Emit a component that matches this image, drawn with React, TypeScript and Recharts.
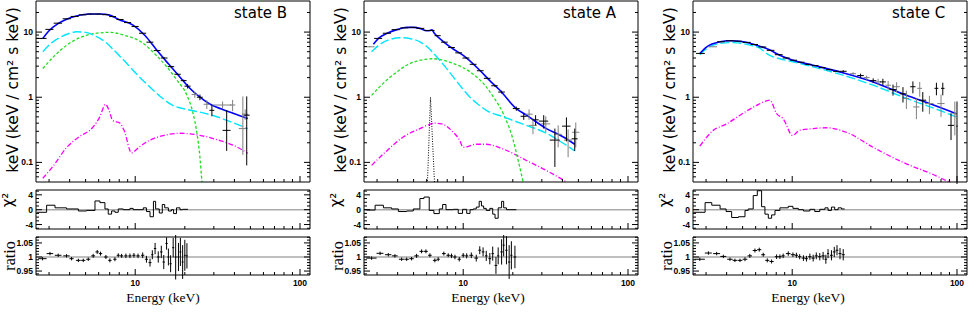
import React from 'react';
import { ComposedChart, Line, Scatter, XAxis, YAxis, ErrorBar, ReferenceLine } from 'recharts';

// ---------------- axes / ticks ----------------
const xDomain: [number, number] = [2.5, 115];
const xTicks = [3, 4, 5, 6, 7, 8, 9, 10, 20, 30, 40, 50, 60, 70, 80, 90, 100];
const xMajor = [10, 100];
const specDomain: [number, number] = [0.05, 30];
const specTicks = [0.06, 0.07, 0.08, 0.09, 0.1, 0.2, 0.3, 0.4, 0.5, 0.6, 0.7, 0.8, 0.9, 1, 2, 3, 4, 5, 6, 7, 8, 9, 10, 20];
const specMajor = [0.1, 1, 10];
const chiDomain: [number, number] = [-5.2, 5.3];
const chiTicks = [-5, -4, -3, -2, -1, 0, 1, 2, 3, 4, 5];
const chiMajor = [-4, 0, 4];
const ratioDomain: [number, number] = [0.936, 1.071];
const ratioTicks = [0.94, 0.95, 0.96, 0.97, 0.98, 0.99, 1, 1.01, 1.02, 1.03, 1.04, 1.05, 1.06, 1.07];
const ratioMajor = [0.95, 1, 1.05];

// ---------------- state B ----------------
const blueB = [[2.75, 8.0], [3.0, 10.5], [3.4, 13.5], [3.84, 15.8], [4.4, 17.6], [5.3, 18.9], [6.2, 18.9], [7.0, 18.2], [8.0, 15.5], [9.7, 12.8], [11.5, 8.8], [13.5, 5.3], [16, 3.2], [18.7, 2.03], [21, 1.45], [24.7, 1.0], [28, 0.8], [31.3, 0.7], [40, 0.56], [48.2, 0.47]];
const cyanB = [[2.75, 5.0], [3.1, 6.8], [3.5, 8.3], [4.0, 9.6], [4.4, 10.1], [5.0, 9.9], [5.8, 8.6], [6.7, 6.8], [7.7, 4.8], [8.9, 3.3], [10.5, 2.1], [12.3, 1.43], [14.5, 0.98], [16.9, 0.75], [20, 0.66], [24.7, 0.59], [30, 0.52], [38, 0.42], [48.2, 0.33]];
const greenB = [[2.75, 2.76], [3.2, 4.2], [3.84, 6.3], [4.6, 8.2], [5.5, 9.4], [7.0, 9.9], [8.5, 9.0], [11.1, 6.8], [13.3, 4.5], [15.6, 2.9], [18, 1.8], [20.5, 1.1], [22.3, 0.6], [23.7, 0.28], [24.7, 0.12], [25.4, 0.05], [25.8, 0.03]];
const magentaB = [[2.75, 0.057], [3.2, 0.09], [3.84, 0.17], [4.6, 0.25], [5.5, 0.34], [6.1, 0.5], [6.6, 0.78], [6.95, 0.62], [7.3, 0.44], [8.1, 0.4], [8.6, 0.3], [9.5, 0.14], [10.5, 0.17], [12.3, 0.22], [15, 0.26], [18.7, 0.28], [24.7, 0.26], [32, 0.22], [40, 0.18], [48.2, 0.138]];
const dataBlackB = [[2.7, 8.0, 0.2, 0.1, 0.1], [3.02, 11.0, 0.17, 0.12, 0.12], [3.4, 13.7, 0.2, 0.15, 0.15], [3.85, 16, 0.22, 0.2, 0.2], [4.3, 17.4, 0.24, 0.2, 0.2], [4.8, 18.4, 0.26, 0.2, 0.2], [5.35, 18.9, 0.28, 0.2, 0.2], [5.95, 18.9, 0.3, 0.2, 0.2], [6.6, 18.5, 0.32, 0.2, 0.2], [7.3, 17.3, 0.35, 0.2, 0.2], [8.1, 15.6, 0.4, 0.2, 0.2], [9.0, 14, 0.45, 0.2, 0.2], [10.0, 12.2, 0.5, 0.2, 0.2], [11.1, 9.6, 0.55, 0.15, 0.15], [12.3, 7.0, 0.6, 0.12, 0.12], [13.6, 5.2, 0.65, 0.1, 0.1], [15.0, 4.0, 0.7, 0.08, 0.08], [16.5, 2.95, 0.75, 0.07, 0.07], [18.1, 2.25, 0.8, 0.06, 0.06], [19.7, 1.8, 0.8, 0.06, 0.06], [20.8, 1.48, 0.9, 0.12, 0.12], [24.7, 1.0, 1.0, 0.1, 0.1], [29.2, 0.63, 1.0, 0.12, 0.12], [35.9, 0.31, 2.0, 0.16, 0.32], [47.5, 0.53, 2.0, 0.44, 0.5]];
const dataGreyB = [[23, 1.1, 1.0, 0.12, 0.12], [27.2, 0.78, 1.2, 0.12, 0.12], [33.9, 0.76, 4.5, 0.1, 0.1], [39, 0.76, 1.5, 0.15, 0.15], [45, 0.33, 2.5, 0.2, 0.7], [46.5, 0.55, 2.0, 0.1, 0.1]];
const chiB = [[2.52, -0.7], [2.9, 1.2], [3.26, 0.5], [3.83, 0.2], [4.52, -0.35], [5.07, -0.2], [5.7, 2.35], [6.11, 1.9], [6.55, 0.2], [6.86, -1.2], [7.19, -0.35], [7.53, -0.7], [7.89, 0.2], [8.46, 0], [9.29, 0.35], [9.72, 0], [11.2, 0.5], [11.7, -0.5], [12.3, -1.9], [12.9, 2.25], [13.3, 0.2], [14.0, -0.9], [14.6, 1.4], [15.1, 0.5], [15.9, -0.35], [16.6, 0], [17.1, -1.05], [17.8, 0.5], [18.7, 0], [19.4, 0.1], [20.9, 0.1]];
const ratioB = [[2.74, 0.994, 0.16, 0.006], [3.04, 1.012, 0.14, 0.006], [3.41, 1.006, 0.16, 0.006], [3.83, 1.004, 0.17, 0.006], [4.11, 0.994, 0.12, 0.006], [4.52, 0.988, 0.15, 0.006], [4.84, 0.988, 0.14, 0.006], [5.19, 0.992, 0.15, 0.006], [5.56, 1.004, 0.15, 0.007], [5.88, 1.018, 0.14, 0.007], [6.16, 1.012, 0.14, 0.007], [6.64, 1.0, 0.16, 0.007], [7.02, 0.988, 0.16, 0.007], [7.53, 0.992, 0.17, 0.007], [7.89, 1.006, 0.17, 0.007], [8.27, 1.004, 0.18, 0.007], [8.78, 1.004, 0.2, 0.008], [9.29, 1.004, 0.2, 0.008], [9.82, 1.006, 0.22, 0.008], [10.4, 1.004, 0.24, 0.008], [11.1, 1.006, 0.25, 0.01], [11.7, 0.992, 0.25, 0.012], [12.3, 0.98, 0.25, 0.014], [12.7, 1.008, 0.2, 0.016], [13.2, 1.03, 0.22, 0.02], [13.8, 1.0, 0.25, 0.02], [14.4, 1.018, 0.25, 0.022], [14.9, 0.982, 0.25, 0.025], [15.5, 1.048, 0.25, 0.022], [15.9, 1.0, 0.22, 0.03], [16.4, 0.976, 0.25, 0.03], [17.0, 1.033, 0.25, 0.035], [17.6, 1.0, 0.25, 0.08], [18.3, 1.0, 0.25, 0.05], [18.8, 1.018, 0.25, 0.05], [19.4, 0.982, 0.25, 0.06], [20.0, 1.006, 0.25, 0.055], [20.6, 1.004, 0.25, 0.045]];

// ---------------- state A ----------------
const blueA = [[2.85, 6.5], [3.1, 8.2], [3.43, 9.5], [4.0, 11], [4.54, 11.8], [5.0, 11.8], [5.46, 11.4], [6.0, 10.5], [6.3, 10.6], [6.45, 10.8], [6.7, 9.5], [7.6, 7.1], [8.7, 5.5], [10, 4.4], [12.6, 2.6], [14.5, 1.8], [16.7, 1.28], [21, 0.67], [24.2, 0.53], [32, 0.33], [40, 0.25], [47.5, 0.19]];
const cyanA = [[2.78, 4.98], [3.1, 6.4], [3.6, 7.7], [4.13, 8.2], [4.8, 7.9], [5.46, 7.1], [6.2, 5.6], [6.9, 4.17], [7.8, 2.9], [8.7, 2.05], [9.8, 1.4], [11, 1.0], [12.3, 0.78], [13.8, 0.63], [17.5, 0.5], [24.2, 0.37], [32, 0.28], [40, 0.2], [47.5, 0.15]];
const greenA = [[2.78, 1.07], [3.43, 1.83], [4.0, 2.5], [4.54, 3.1], [5.5, 3.7], [6.6, 3.9], [7.6, 3.7], [8.7, 3.3], [11, 2.45], [13.8, 1.44], [15.5, 0.95], [17.5, 0.56], [20.1, 0.22], [21.5, 0.11], [23.1, 0.05], [23.8, 0.035]];
const magentaA = [[2.78, 0.09], [3.43, 0.15], [4.32, 0.245], [5.46, 0.33], [6.2, 0.38], [6.7, 0.4], [7.4, 0.39], [8.7, 0.29], [9.5, 0.22], [10, 0.17], [12, 0.19], [13.8, 0.19], [17.5, 0.16], [24.2, 0.107], [32, 0.075], [42.3, 0.05], [47, 0.042]];
const gaussA = [[6.05, 0.04], [6.33, 1.0], [6.72, 0.04]];
const dataBlackA = [[3.05, 8.0, 0.17, 0.1, 0.1], [3.45, 9.6, 0.2, 0.1, 0.1], [3.9, 10.9, 0.22, 0.1, 0.1], [4.4, 11.6, 0.25, 0.1, 0.1], [4.95, 11.8, 0.28, 0.1, 0.1], [5.5, 11.4, 0.3, 0.1, 0.1], [6.1, 10.6, 0.3, 0.1, 0.1], [6.5, 10.6, 0.2, 0.1, 0.1], [7.0, 8.8, 0.3, 0.1, 0.1], [7.7, 7.0, 0.35, 0.1, 0.1], [8.5, 5.8, 0.4, 0.08, 0.08], [9.4, 4.8, 0.45, 0.07, 0.07], [10.4, 4.0, 0.5, 0.06, 0.06], [11.5, 3.2, 0.55, 0.05, 0.05], [12.7, 2.55, 0.6, 0.04, 0.04], [14.0, 1.95, 0.65, 0.04, 0.04], [15.5, 1.5, 0.7, 0.04, 0.04], [17.1, 1.2, 0.8, 0.06, 0.06], [21, 0.67, 1, 0.05, 0.05], [23.3, 0.51, 1, 0.06, 0.06], [27.5, 0.45, 1.2, 0.08, 0.08], [30.8, 0.43, 2, 0.1, 0.1], [36, 0.22, 2.5, 0.135, 0.11], [42.3, 0.36, 2.5, 0.15, 0.13], [47.5, 0.23, 2, 0.08, 0.1]];
const dataGreyA = [[2.7, 5.95, 0.2, 0.1, 0.1], [25.1, 0.55, 1.3, 0.1, 0.1], [26.5, 0.37, 1.5, 0.1, 0.1], [31.7, 0.39, 2, 0.1, 0.12], [37.7, 0.27, 2, 0.1, 0.1], [43.3, 0.22, 2.5, 0.1, 0.1], [48.2, 0.29, 2.5, 0.12, 0.12]];
const chiA = [[2.52, 0], [2.59, -0.1], [2.92, 1.2], [3.28, 0.5], [3.68, 0.2], [4.04, -0.5], [4.54, -0.35], [4.98, 0.2], [5.46, 3.0], [5.78, 3.4], [6.22, -0.2], [6.64, -1.05], [7.16, 0.2], [7.5, 1.4], [7.86, 0], [8.7, 0.1], [9.33, -1.0], [9.91, 0.1], [10.5, -1.0], [11.0, 0], [11.5, 0.2], [12.0, 0.7], [12.5, 2.25], [12.9, 1.0], [13.3, 0.35], [13.8, -0.2], [14.5, 0.35], [15.1, -1.2], [15.6, -2.3], [16.3, 0.5], [17.1, 2.25], [17.6, 0.5], [18.3, 0], [19.2, 0], [21.0, 0]];
const ratioA = [[2.78, 0.996, 0.2, 0.006], [3.13, 1.013, 0.15, 0.006], [3.51, 1.008, 0.16, 0.006], [3.85, 1.004, 0.15, 0.006], [4.23, 0.992, 0.16, 0.006], [4.54, 0.992, 0.14, 0.006], [4.86, 0.994, 0.15, 0.006], [5.21, 1.004, 0.16, 0.007], [5.59, 1.02, 0.16, 0.007], [5.94, 1.02, 0.16, 0.007], [6.28, 1.006, 0.16, 0.007], [6.73, 0.988, 0.18, 0.007], [7.05, 0.992, 0.16, 0.007], [7.63, 1.012, 0.2, 0.007], [8.11, 1.006, 0.2, 0.007], [8.49, 1.004, 0.18, 0.008], [8.91, 1.0, 0.2, 0.008], [9.46, 0.992, 0.22, 0.008], [10.0, 1.006, 0.22, 0.008], [10.5, 1.004, 0.22, 0.009], [11.2, 1.006, 0.3, 0.01], [12.0, 0.996, 0.3, 0.012], [12.6, 1.024, 0.25, 0.014], [13.2, 1.018, 0.25, 0.016], [13.8, 1.004, 0.25, 0.018], [14.5, 0.994, 0.28, 0.02], [15.1, 1.012, 0.25, 0.025], [15.8, 0.97, 0.3, 0.03], [16.3, 1.004, 0.25, 0.03], [17.1, 1.018, 0.3, 0.045], [17.6, 1.042, 0.25, 0.04], [18.3, 1.024, 0.3, 0.05], [19.0, 0.982, 0.3, 0.06], [19.6, 1.006, 0.3, 0.05], [20.6, 1.0, 0.4, 0.04]];

// ---------------- state C ----------------
const blueC = [[2.75, 4.7], [3.03, 5.95], [3.65, 7.1], [4.19, 7.36], [5.05, 7.1], [6.08, 6.3], [7.33, 5.3], [8.4, 4.4], [10.1, 3.7], [13.4, 3.1], [19.4, 2.45], [31, 1.72], [49.3, 1.07], [70, 0.78], [99, 0.56]];
const cyanC = [[2.75, 4.5], [3.03, 5.6], [3.65, 6.7], [4.39, 6.9], [5.53, 6.3], [6.4, 5.6], [6.98, 4.7], [7.6, 4.2], [8.4, 3.9], [10.1, 3.5], [13.4, 2.92], [19.4, 2.26], [31, 1.53], [49.3, 0.96], [70, 0.7], [99, 0.5]];
const magentaC = [[2.75, 0.178], [3.32, 0.31], [4.0, 0.39], [4.82, 0.53], [6.08, 0.75], [7.0, 0.88], [7.33, 0.9], [8.04, 0.56], [8.8, 0.47], [10.05, 0.26], [11.1, 0.31], [13.4, 0.33], [16.1, 0.34], [21.3, 0.29], [31, 0.17], [49.3, 0.095], [70, 0.067], [90, 0.05], [100, 0.045]];
const dataBlackC = [[2.78, 4.7, 0.17, 0.05, 0.05], [3.7, 7.1, 0.2, 0.07, 0.07], [4.2, 7.36, 0.25, 0.07, 0.07], [4.7, 7.25, 0.25, 0.07, 0.07], [5.3, 6.95, 0.3, 0.07, 0.07], [5.9, 6.45, 0.3, 0.06, 0.06], [6.6, 5.9, 0.35, 0.06, 0.06], [7.4, 5.25, 0.4, 0.05, 0.05], [8.3, 4.5, 0.45, 0.05, 0.05], [9.2, 4.0, 0.45, 0.04, 0.04], [10.2, 3.7, 0.5, 0.04, 0.04], [11.3, 3.45, 0.55, 0.04, 0.04], [12.5, 3.2, 0.6, 0.04, 0.04], [13.8, 3.05, 0.65, 0.04, 0.04], [15.2, 2.85, 0.7, 0.04, 0.04], [16.8, 2.65, 0.75, 0.04, 0.04], [18.5, 2.5, 0.8, 0.05, 0.05], [20.4, 2.5, 1, 0.1, 0.1], [26, 2.15, 1.2, 0.15, 0.15], [31, 1.8, 1.4, 0.15, 0.15], [35.5, 1.72, 1.5, 0.2, 0.2], [40.9, 1.31, 2, 0.25, 0.25], [47, 1.13, 2, 0.3, 0.3], [54, 1.45, 2, 0.3, 0.3], [62, 0.9, 3, 0.3, 0.3], [75, 1.37, 2, 0.3, 0.3], [82, 1.37, 2, 0.3, 0.3], [92, 0.37, 4, 0.15, 0.2], [100, 0.36, 1, 0.33, 0.5]];
const dataGreyC = [[3.3, 5.95, 0.2, 0.06, 0.06], [23.4, 2.3, 1, 0.12, 0.12], [28.3, 2.0, 1.2, 0.15, 0.15], [33.2, 1.72, 1.5, 0.2, 0.2], [38.2, 1.53, 1.5, 0.25, 0.25], [43, 1.45, 2, 0.25, 0.25], [49.3, 0.96, 2, 0.3, 0.3], [56.7, 0.71, 2.5, 0.25, 0.25], [59.4, 1.37, 2, 0.35, 0.35], [68, 0.8, 4, 0.25, 0.25], [80, 0.8, 4, 0.3, 0.3], [97, 0.56, 3, 0.3, 0.3]];
const chiC = [[2.51, -0.7], [2.96, 1.9], [3.25, 1.2], [3.65, 0.2], [3.97, -0.5], [4.29, -2.1], [4.71, -1.9], [5.17, -0.2], [5.41, 0.2], [5.8, 3.8], [6.14, 5.1], [6.52, 0.8], [6.83, -1.2], [7.16, -2.3], [7.5, -1.4], [7.86, -0.2], [8.42, 0.5], [9.46, 0.9], [10.1, 0.35], [10.9, 0], [11.7, -0.35], [12.8, 0.1], [13.7, -0.5], [14.7, 0.1], [15.8, 0.5], [16.5, -0.2], [17.3, 0.7], [18.1, 0], [19.0, 0.5], [19.9, 0.2], [20.8, 0.2]];
const ratioC = [[2.75, 0.992, 0.2, 0.006], [3.1, 1.014, 0.15, 0.006], [3.48, 1.012, 0.17, 0.006], [3.82, 1.002, 0.16, 0.006], [4.19, 0.992, 0.16, 0.006], [4.49, 0.988, 0.14, 0.006], [4.82, 0.988, 0.16, 0.006], [5.17, 0.992, 0.17, 0.007], [5.53, 1.004, 0.17, 0.007], [5.94, 1.023, 0.18, 0.007], [6.31, 1.026, 0.18, 0.007], [6.67, 1.008, 0.18, 0.007], [7.06, 0.988, 0.2, 0.007], [7.5, 0.984, 0.22, 0.007], [8.04, 1.001, 0.2, 0.008], [8.42, 1.001, 0.2, 0.008], [8.81, 1.004, 0.2, 0.008], [9.46, 1.012, 0.3, 0.008], [10.1, 1.008, 0.3, 0.008], [10.6, 1.006, 0.25, 0.009], [11.1, 1.001, 0.25, 0.009], [11.7, 0.996, 0.3, 0.01], [12.2, 0.994, 0.25, 0.01], [12.8, 1.001, 0.3, 0.011], [13.4, 0.996, 0.3, 0.012], [14.0, 1.004, 0.3, 0.012], [14.7, 1.001, 0.35, 0.013], [15.4, 1.004, 0.35, 0.014], [16.0, 0.992, 0.3, 0.016], [16.5, 1.012, 0.25, 0.016], [17.3, 1.006, 0.35, 0.018], [18.0, 1.018, 0.35, 0.018], [18.7, 1.024, 0.35, 0.018], [19.5, 1.012, 0.4, 0.02], [20.4, 1.008, 0.45, 0.02]];

// ---------------- layout ----------------
const PW = 274;
const SPEC_TOP = 1, SPEC_H = 181;
const CHI_TOP = 190, CHI_H = 39;
const RAT_TOP = 237, RAT_H = 38;

const TICK_FONT: React.CSSProperties = { fontFamily: '"Liberation Sans", Arial, sans-serif', fontSize: 8.5, fontWeight: 700 };

const tickRenderer = (side: string, majors: number[], labels: boolean, majorLen: number, minorLen: number) => (props: any) => {
  const { x, y, payload } = props;
  const v = payload.value;
  const isMaj = majors.includes(v);
  const L = isMaj ? majorLen : minorLen;
  let x2 = x, y2 = y;
  if (side === 'bottom') y2 = y - L;
  if (side === 'top') y2 = y + L;
  if (side === 'left') x2 = x + L;
  if (side === 'right') x2 = x - L;
  const lab = labels && isMaj ? String(v) : '';
  return (
    <g>
      <line x1={x} y1={y} x2={x2} y2={y2} stroke="#000" strokeWidth={1} />
      {lab && side === 'bottom' ? <text x={x} y={y + 11} textAnchor="middle" style={TICK_FONT}>{lab}</text> : null}
      {lab && side === 'left' ? <text x={x - 3} y={y + 3} textAnchor="end" style={TICK_FONT}>{lab}</text> : null}
    </g>
  );
};

const toXY = (a: number[][]) => a.map(([x, y]) => ({ x, y }));
const toSpec = (a: number[][]) => a.map(([x, y, ex, lo, hi]) => ({ x, y, ex, ey: [lo, hi] }));
const toRatio = (a: number[][]) => a.map(([x, y, ex, ey]) => ({ x, y, ex, ey }));

const curve = (key: string, data: number[][], color: string, width: number, dash?: string, type: any = 'monotone') => (
  <Line key={key} xAxisId="b" yAxisId="l" data={toXY(data)} dataKey="y" type={type} stroke={color} strokeWidth={width}
    strokeDasharray={dash} dot={false} activeDot={false} isAnimationActive={false} />
);

const crosses = (key: string, data: any[], color: string) => (
  <Scatter key={key} xAxisId="b" yAxisId="l" data={data} dataKey="y" isAnimationActive={false} shape={() => <g />}>
    <ErrorBar dataKey="ex" direction="x" width={0} stroke={color} strokeWidth={1} isAnimationActive={false} />
    <ErrorBar dataKey="ey" direction="y" width={0} stroke={color} strokeWidth={1} isAnimationActive={false} />
  </Scatter>
);

function Box(props: {
  left: number; top: number; height: number; hb: number; yScale: 'log' | 'linear';
  yDomain: [number, number]; yTicks: number[]; yMajor: number[]; xLabels: boolean; children: any;
}) {
  const wl = 36, wr = 2, ht = 2;
  const W = wl + PW + wr;
  const H = ht + props.height + props.hb;
  return (
    <div style={{ position: 'absolute', left: props.left - wl, top: props.top - ht }}>
      <ComposedChart width={W} height={H} margin={{ top: 0, right: 0, bottom: 0, left: 0 }}>
        <XAxis xAxisId="b" orientation="bottom" type="number" dataKey="x" scale="log" domain={xDomain} allowDataOverflow
          ticks={xTicks} interval={0} tickSize={0} tickMargin={0} height={props.hb} tickLine={false}
          axisLine={{ stroke: '#000' }} tick={tickRenderer('bottom', xMajor, props.xLabels, 6, 3)} />
        <XAxis xAxisId="t" orientation="top" type="number" scale="log" domain={xDomain} allowDataOverflow
          ticks={xTicks} interval={0} tickSize={0} tickMargin={0} height={ht} tickLine={false}
          axisLine={{ stroke: '#000' }} tick={tickRenderer('top', xMajor, false, 6, 3)} />
        <YAxis yAxisId="l" orientation="left" type="number" scale={props.yScale} domain={props.yDomain} allowDataOverflow
          ticks={props.yTicks} interval={0} tickSize={0} tickMargin={0} width={wl} tickLine={false}
          axisLine={{ stroke: '#000' }} tick={tickRenderer('left', props.yMajor, true, 6, 3)} />
        <YAxis yAxisId="r" orientation="right" type="number" scale={props.yScale} domain={props.yDomain} allowDataOverflow
          ticks={props.yTicks} interval={0} tickSize={0} tickMargin={0} width={wr} tickLine={false}
          axisLine={{ stroke: '#000' }} tick={tickRenderer('right', props.yMajor, false, 6, 3)} />
        {props.children}
      </ComposedChart>
    </div>
  );
}

const panels = [
  { left: 36, state: 'state B', stateX: 234, energyX: 163, blue: blueB, cyan: cyanB, green: greenB, magenta: magentaB, gauss: null as any, black: dataBlackB, grey: dataGreyB, chi: chiB, ratio: ratioB },
  { left: 364, state: 'state A', stateX: 563, energyX: 488, blue: blueA, cyan: cyanA, green: greenA, magenta: magentaA, gauss: gaussA, black: dataBlackA, grey: dataGreyA, chi: chiA, ratio: ratioA },
  { left: 693, state: 'state C', stateX: 892, energyX: 808, blue: blueC, cyan: cyanC, green: null as any, magenta: magentaC, gauss: null as any, black: dataBlackC, grey: dataGreyC, chi: chiC, ratio: ratioC },
];

const LABEL_SANS: React.CSSProperties = { fontFamily: '"DejaVu Sans", sans-serif', fontSize: 15, fill: '#000' };
const YLABEL_SANS: React.CSSProperties = { fontFamily: '"DejaVu Sans", sans-serif', fontSize: 15.5, fill: '#000' };
const LABEL_SERIF: React.CSSProperties = { fontFamily: '"Liberation Serif", serif', fontSize: 13.5, fill: '#000' };
const RATIO_SERIF: React.CSSProperties = { fontFamily: '"Liberation Serif", serif', fontSize: 16, fill: '#000' };

export default function App() {
  return (
    <div style={{ position: 'absolute', left: 0, top: 0, width: 969, height: 312, background: '#fff', overflow: 'hidden' }}>
      {panels.map((p, i) => (
        <React.Fragment key={i}>
          <Box left={p.left} top={SPEC_TOP} height={SPEC_H} hb={2} yScale="log" yDomain={specDomain} yTicks={specTicks} yMajor={specMajor} xLabels={false}>
            {[
              p.magenta ? curve('m', p.magenta, '#ff00ff', 1.3, '5 2 1 2') : null,
              p.green ? curve('g', p.green, '#22dd22', 1.3, '3 2') : null,
              p.cyan ? curve('c', p.cyan, '#00e5ff', 1.4, '9 3') : null,
              p.gauss ? curve('ga', p.gauss, '#000', 1, '1 1.5', 'linear') : null,
              curve('b', p.blue, '#0000ff', 1.6),
              crosses('dg', toSpec(p.grey), '#808080'),
              crosses('db', toSpec(p.black), '#000'),
            ]}
          </Box>
          <Box left={p.left} top={CHI_TOP} height={CHI_H} hb={2} yScale="linear" yDomain={chiDomain} yTicks={chiTicks} yMajor={chiMajor} xLabels={false}>
            {[
              <ReferenceLine key="z" xAxisId="b" yAxisId="l" y={0} stroke="#aaaaaa" strokeWidth={1.5} />,
              curve('chi', p.chi, '#000', 1, undefined, 'stepAfter'),
            ]}
          </Box>
          <Box left={p.left} top={RAT_TOP} height={RAT_H} hb={20} yScale="linear" yDomain={ratioDomain} yTicks={ratioTicks} yMajor={ratioMajor} xLabels={true}>
            {[
              <ReferenceLine key="o" xAxisId="b" yAxisId="l" y={1} stroke="#aaaaaa" strokeWidth={1.5} />,
              crosses('r', toRatio(p.ratio), '#000'),
            ]}
          </Box>
        </React.Fragment>
      ))}
      <svg width={969} height={312} style={{ position: 'absolute', left: 0, top: 0, pointerEvents: 'none' }}>
        {panels.map((p, i) => (
          <g key={i}>
            <text transform={`translate(${p.left - 18},90) rotate(-90)`} textAnchor="middle" style={YLABEL_SANS}>keV (keV / cm² s keV)</text>
            <text transform={`translate(${p.left - 23},200) rotate(-90)`} textAnchor="middle" style={LABEL_SANS}>χ²</text>
            <text transform={`translate(${p.left - 21},256) rotate(-90)`} textAnchor="middle" style={RATIO_SERIF}>ratio</text>
            <text x={p.stateX} y={18} style={LABEL_SANS}>{p.state}</text>
            <text x={p.energyX} y={302} textAnchor="middle" style={LABEL_SERIF}>Energy (keV)</text>
          </g>
        ))}
      </svg>
    </div>
  );
}
